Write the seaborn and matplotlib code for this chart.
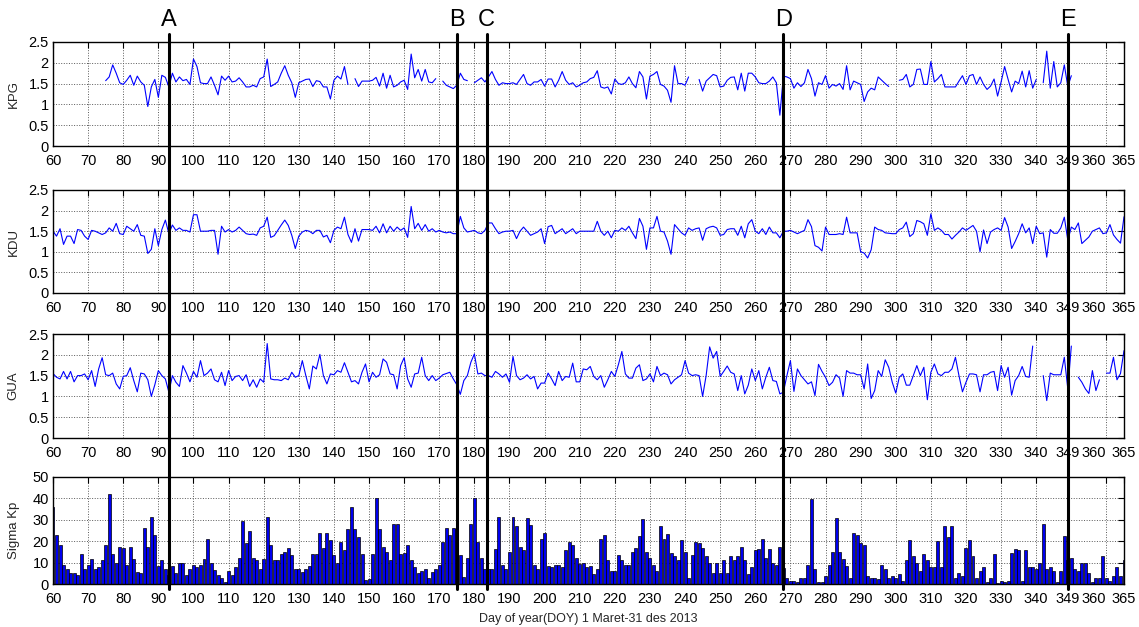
"""Stacked KPG / KDU / GUA daily series with Sigma Kp bars, DOY 60-365 (2013)."""

import matplotlib.pyplot as plt
import matplotlib.transforms as mtransforms
import numpy as np
import pandas as pd
import seaborn as sns
from matplotlib.lines import Line2D
from matplotlib.ticker import FormatStrFormatter

nan = np.nan

days = list(range(60, 366))

# one row = 10 days, starting at DOY 60
kpg = [
    0, 0, nan, nan, nan, nan, nan, nan, nan, nan,
    nan, nan, nan, nan, nan, 1.57, 1.66, 1.95, 1.75, 1.52,
    1.48, 1.58, 1.7, 1.46, 1.68, 1.54, 1.46, 0.95, 1.42, 1.6,
    1.17, 1.7, 1.65, 1.42, 1.75, 1.54, 1.66, 1.57, 1.6, 1.48,
    2.09, 1.91, 1.52, 1.5, 1.5, 1.66, 1.46, 1.23, 1.68, 1.58,
    1.68, 1.54, 1.56, 1.64, 1.54, 1.42, 1.42, 1.46, 1.42, 1.62,
    1.66, 2.09, 1.43, 1.48, 1.54, 1.75, 1.93, 1.7, 1.52, 1.17,
    1.52, 1.56, 1.6, 1.61, 1.43, 1.57, 1.55, 1.42, 1.42, 1.13,
    1.58, 1.68, 1.61, 1.91, 1.48, nan, 1.62, 1.43, 1.56, 1.56,
    1.56, 1.58, 1.65, 1.44, 1.75, 1.39, 1.7, 1.42, 1.46, 1.54,
    1.58, 1.36, 2.21, 1.64, 1.84, 1.56, 1.84, 1.54, 1.52, 1.62,
    nan, 1.56, 1.46, 1.42, 1.38, 1.46, 1.75, 1.6, 1.57, nan,
    1.52, 1.58, 1.64, 1.54, 1.66, 1.79, 1.6, 1.46, 1.52, 1.5,
    1.5, 1.52, 1.48, 1.6, 1.72, 1.5, 1.46, 1.54, 1.54, 1.6,
    1.44, 1.61, 1.61, 1.42, 1.58, 1.79, 1.58, 1.48, 1.52, 1.42,
    1.46, 1.52, 1.54, 1.62, 1.65, 1.81, 1.42, 1.39, 1.42, 1.25,
    1.61, 1.5, 1.48, 1.52, 1.66, 1.5, 1.4, 1.79, 1.66, 1.13,
    1.68, 1.72, 1.79, 1.48, 1.44, 1.34, 1.05, 1.93, 1.5, 1.5,
    1.46, 1.66, nan, nan, 1.6, 1.32, 1.56, 1.64, 1.72, 1.69,
    1.42, 1.44, 1.58, 1.65, 1.66, 1.35, 1.75, 1.32, 1.75, 1.75,
    1.66, 1.52, 1.5, 1.5, 1.56, 1.66, 1.52, 0.74, 1.68, 1.66,
    1.62, 1.39, 1.52, 1.43, 1.52, 1.84, 1.62, 1.2, 1.52, 1.48,
    1.69, 1.39, 1.48, 1.44, 1.5, 1.36, 1.93, 1.35, 1.56, 1.52,
    1.48, 1.07, 1.3, 1.39, 1.35, 1.66, 1.58, 1.5, 1.43, nan,
    nan, 1.58, 1.6, 1.72, 1.42, 1.48, 1.84, 1.85, 1.48, 1.48,
    2.03, 1.54, 1.62, 1.72, 1.42, 1.42, 1.42, 1.42, 1.56, 1.69,
    1.48, 1.69, 1.72, 1.48, 1.66, 1.48, 1.36, 1.44, 1.61, 1.2,
    1.54, 1.91, 1.6, 1.3, 1.56, 1.5, 1.8, 1.42, 1.81, 1.39,
    1.6, nan, 1.52, 2.28, 1.39, 2.03, 1.42, 1.52, 1.95, 1.43,
    1.69, nan, nan, nan, nan, nan, nan, nan, nan, nan,
    nan, nan, nan, nan, nan, nan,
]

kdu = [
    1.5, 1.38, 1.56, 1.18, 1.38, 1.38, 1.2, 1.54, 1.52, 1.38,
    1.3, 1.52, 1.5, 1.46, 1.42, 1.46, 1.58, 1.5, 1.69, 1.44,
    1.42, 1.62, 1.56, 1.5, 1.66, 1.4, 1.38, 0.96, 1.06, 1.56,
    1.15, 1.54, 1.77, 1.44, 1.65, 1.52, 1.58, 1.52, 1.52, 1.48,
    1.9, 1.9, 1.5, 1.5, 1.5, 1.52, 1.52, 0.94, 1.62, 1.48,
    1.54, 1.48, 1.52, 1.6, 1.52, 1.44, 1.42, 1.43, 1.4, 1.58,
    1.62, 1.84, 1.35, 1.39, 1.52, 1.65, 1.77, 1.64, 1.4, 1.08,
    1.38, 1.48, 1.52, 1.5, 1.44, 1.52, 1.52, 1.36, 1.4, 1.22,
    1.52, 1.6, 1.56, 1.84, 1.42, 1.23, 1.56, 1.26, 1.54, 1.54,
    1.54, 1.52, 1.62, 1.46, 1.68, 1.46, 1.62, 1.5, 1.6, 1.52,
    1.58, 1.35, 2.1, 1.56, 1.69, 1.52, 1.66, 1.5, 1.56, 1.48,
    1.52, 1.48, 1.46, 1.48, 1.44, 1.44, 1.86, 1.58, 1.48, 1.5,
    1.52, 1.46, 1.44, 1.52, 1.7, 1.7, 1.56, 1.44, 1.48, 1.5,
    1.5, 1.52, 1.32, 1.5, 1.6, 1.5, 1.4, 1.44, 1.48, 1.56,
    1.2, 1.61, 1.64, 1.44, 1.5, 1.56, 1.44, 1.5, 1.56, 1.44,
    1.5, 1.5, 1.5, 1.5, 1.5, 1.74, 1.5, 1.4, 1.5, 1.34,
    1.52, 1.5, 1.58, 1.52, 1.62, 1.46, 1.32, 1.81, 1.62, 1.06,
    1.58, 1.58, 1.86, 1.5, 1.48, 1.26, 0.94, 1.66, 1.56, 1.46,
    1.4, 1.58, 1.52, 1.56, 1.58, 1.28, 1.56, 1.6, 1.62, 1.58,
    1.4, 1.42, 1.54, 1.56, 1.56, 1.4, 1.62, 1.34, 1.68, 1.78,
    1.5, 1.44, 1.56, 1.42, 1.6, 1.46, 1.46, 1.34, 1.5, 1.5,
    1.52, 1.48, 1.44, 1.48, 1.52, 1.78, 1.61, 1.15, 1.11, 1.02,
    1.6, 1.42, 1.42, 1.42, 1.44, 1.42, 1.84, 1.46, 1.46, 1.46,
    1.0, 0.97, 0.85, 1.05, 1.6, 1.54, 1.52, 1.46, 1.45, 1.44,
    1.44, 1.54, 1.58, 1.72, 1.37, 1.44, 1.76, 1.73, 1.68, 1.4,
    1.92, 1.52, 1.58, 1.52, 1.42, 1.42, 1.31, 1.4, 1.48, 1.58,
    1.52, 1.58, 1.64, 1.5, 1.0, 1.53, 1.2, 1.48, 1.54, 1.58,
    1.52, 1.83, 1.6, 1.08, 1.25, 1.44, 1.68, 1.46, 1.58, 1.2,
    1.62, 1.44, 1.46, 0.87, 1.54, 1.45, 1.45, 1.58, 1.84, 1.28,
    1.6, 1.54, 1.7, 1.2, 1.28, 1.36, 1.5, 1.54, 1.58, 1.44,
    1.46, 1.66, 1.41, 1.3, 1.21, 1.85,
]

gua = [
    1.55, 1.46, 1.42, 1.6, 1.42, 1.6, 1.35, 1.5, 1.5, 1.54,
    1.4, 1.62, 1.24, 1.66, 1.93, 1.52, 1.5, 1.56, 1.3, 1.18,
    1.48, 1.5, 1.69, 1.38, 1.11, 1.56, 1.54, 1.4, 1.0, 1.28,
    1.62, 1.5, 1.42, 1.1, 1.5, 1.34, 1.24, 1.74, 1.56, 1.35,
    1.6, 1.46, 1.86, 1.5, 1.56, 1.66, 1.4, 1.35, 1.58, 1.26,
    1.62, 1.38, 1.48, 1.5, 1.38, 1.52, 1.24, 1.4, 1.22, 1.42,
    1.34, 2.27, 1.42, 1.4, 1.4, 1.38, 1.44, 1.4, 1.58, 1.46,
    1.5, 1.86, 1.5, 1.18, 1.73, 1.66, 2.01, 1.5, 1.3, 1.54,
    1.52, 1.62, 1.58, 1.81, 1.58, 1.35, 1.38, 1.3, 1.58, 1.78,
    1.35, 1.58, 1.46, 1.52, 1.9, 1.82, 1.54, 1.52, 1.18, 1.74,
    1.93, 1.42, 1.22, 1.54, 1.56, 1.94, 1.5, 1.38, 1.5, 1.38,
    1.44, 1.52, 1.55, 1.58, 1.42, 1.28, 1.05, 1.38, 1.5, 1.82,
    2.02, 1.54, 1.56, 1.5, 1.5, 1.46, 1.6, 1.54, 1.46, 1.54,
    1.34, 1.96, 1.5, 1.4, 1.44, 1.52, 1.42, 1.48, 1.18, 1.32,
    1.32, 1.56, 1.42, 1.26, 1.6, 1.38, 1.48, 1.46, 1.8, 1.35,
    1.35, 1.66, 1.64, 1.72, 1.48, 1.4, 1.5, 1.22, 1.4, 1.6,
    1.48, 1.76, 2.08, 1.54, 1.44, 1.44, 1.68, 1.76, 1.38, 1.42,
    1.54, 1.35, 1.72, 1.5, 1.56, 1.52, 1.3, 1.4, 1.46, 1.52,
    1.86, 1.56, 1.5, 1.52, 1.5, 1.0, 1.5, 2.19, 1.92, 2.08,
    1.48, 1.6, 1.73, 1.58, 1.54, 1.14, 1.5, 1.06, 1.27, 1.66,
    1.38, 1.62, 1.18, 1.46, 1.7, 1.38, 1.36, 1.06, 1.1, 1.5,
    1.86, 1.12, 1.66, 1.5, 1.4, 1.3, 1.35, 1.02, 1.77, 1.6,
    1.46, 1.26, 1.34, 1.52, 1.44, 1.0, 1.62, 1.56, 1.56, 1.52,
    1.52, 1.18, 1.78, 0.95, 1.14, 1.62, 1.48, 1.88, 1.7, 1.34,
    1.08, 1.46, 1.54, 1.27, 1.27, 1.5, 1.74, 1.5, 1.7, 0.92,
    1.58, 1.78, 1.54, 1.5, 1.58, 1.58, 1.66, 1.94, 1.5, 1.11,
    1.34, 1.54, 1.54, 1.52, 1.11, 1.52, 1.52, 1.58, 1.6, 1.14,
    1.74, 1.46, 1.7, 1.03, 1.38, 1.5, 1.72, 1.48, 1.46, 2.21,
    nan, nan, 1.5, 0.9, 1.56, 1.52, 1.52, 1.52, 1.94, 1.18,
    2.21, nan, 1.46, 1.34, 1.18, 1.07, 1.62, 1.14, 1.4, nan,
    1.56, 1.56, 1.94, 1.4, 1.55, 2.1,
]

sigma_kp = [
    36, 23, 18, 9, 7, 5, 5, 4, 14, 7,
    9, 11.5, 7, 8, 11, 18, 42, 14, 10, 17.5,
    17, 9, 17.5, 11.5, 5.5, 5, 26, 17.5, 31.5, 23,
    8.5, 11, 7, 4, 8.5, 5, 10, 10, 4, 7,
    9, 8, 9, 11.5, 21, 10, 6.5, 4, 3, 1,
    6, 4, 8, 12, 29.5, 19, 25, 12, 11, 7,
    11.5, 31.5, 18, 11, 11, 14, 15, 17, 13.5, 7,
    7, 5.5, 7, 8.5, 14, 14, 24, 17, 24, 20.5,
    13.5, 10, 19.5, 16, 25.5, 36, 25.5, 22, 14, 2,
    2.5, 14, 40, 25.5, 17.5, 15, 11, 28, 28, 14,
    14.5, 18, 11, 8, 5, 6, 7, 3, 5.5, 7,
    9, 19.5, 26, 23, 26, 25.5, 13.5, 3.5, 12, 28,
    40, 19.5, 12, 7, 7, 7, 16.5, 31.5, 9, 7,
    15, 31.5, 27, 17.5, 16, 31, 27.5, 9, 7, 21,
    24, 8.5, 8, 9, 9, 8, 16, 19.5, 18, 12,
    9.5, 10, 8, 8.5, 4.6, 7, 21, 23, 11, 6,
    6, 13.5, 11, 9, 9, 15, 17, 22.5, 30.5, 15,
    12, 9, 6, 27, 21, 23.5, 14.5, 13, 11, 20.5,
    15, 3, 13.5, 19.5, 19, 17, 13, 10, 5, 10,
    5, 11, 5, 13, 11, 13, 17.5, 11, 4.6, 8,
    16, 16.3, 21, 12, 16.3, 10, 9, 17.5, 7.7, 3,
    1.6, 1.6, 1, 3, 3, 9, 39.5, 7, 1, 1,
    3.7, 9, 15, 31, 15, 11.5, 8.5, 3, 24, 23,
    19, 18, 3.7, 3, 3, 2.4, 9, 7, 3, 3.7,
    3, 4.5, 1.6, 11, 20.5, 13, 10, 6, 14, 11,
    8, 8, 20, 8, 27, 22, 27, 3, 5, 3.7,
    17, 20.5, 13, 3, 6, 8, 1, 3, 14, 0.3,
    1.6, 1, 1.6, 14.5, 16.3, 16, 1.3, 16, 8, 8,
    7, 10, 28, 7, 8, 6, 1, 6, 22.5, 11,
    12, 7, 6, 10, 10, 5, 1, 3, 3, 13,
    3, 1.6, 3.7, 8, 3.7, 11,
]

event_labels = ["A", "B", "C", "D", "E"]
event_days = [93, 175, 183.5, 268, 349]

x_ticks = list(range(60, 341, 10)) + [349, 360, 365]
line_yticks = [0, 0.5, 1, 1.5, 2, 2.5]
kp_yticks = [0, 10, 20, 30, 40, 50]
panel_names = ["KPG", "KDU", "GUA"]

sns.set_style("white")
plt.rcParams["font.family"] = ["Liberation Sans Narrow", "Liberation Sans", "DejaVu Sans"]

W, H = 1139, 627
fig = plt.figure(figsize=(W / 100, H / 100), dpi=100)

# axes boxes in pixels: (top, bottom)
boxes = [(42, 146), (190, 293), (334, 438), (477, 584)]
left_px, right_px = 53, 1124
axes = []
for top, bot in boxes:
    ax = fig.add_axes([left_px / W, 1 - bot / H, (right_px - left_px) / W, (bot - top) / H])
    axes.append(ax)


def style_axis(ax):
    ax.set_xlim(60, 365)
    ax.set_xticks(x_ticks)
    ax.set_xticklabels([str(t) for t in x_ticks])
    # the last two ticks sit close together: push "360" left so they just touch
    ax.get_xticklabels()[-2].set_horizontalalignment("right")
    ax.grid(True, linestyle=":", color="0.35", linewidth=0.7)
    ax.set_axisbelow(True)
    ax.tick_params(direction="in", length=4, width=0.8, top=True, right=True,
                   labelsize=10.5, colors="black")
    ax.tick_params(axis="x", pad=6)
    ax.tick_params(axis="y", pad=3)
    for sp in ax.spines.values():
        sp.set_color("black")
        sp.set_linewidth(1.0)
    ax.set_xlabel("")
    ax.yaxis.set_label_coords(-0.031, 0.5)


for ax, name, vals in zip(axes[:3], panel_names, [kpg, kdu, gua]):
    df = pd.DataFrame({"day": days, "value": vals})
    df["seg"] = df["value"].isna().cumsum()
    df = df.dropna()
    sns.lineplot(data=df, x="day", y="value", units="seg", estimator=None,
                 color="#0000ff", linewidth=0.8, ax=ax, legend=False)
    ax.set_ylim(0, 2.5)
    ax.set_yticks(line_yticks)
    ax.yaxis.set_major_formatter(FormatStrFormatter("%g"))
    ax.set_ylabel(name, fontsize=9.5)
    style_axis(ax)

ax4 = axes[3]
kp_df = pd.DataFrame({"day": days, "kp": sigma_kp})
sns.barplot(data=kp_df, x="day", y="kp", native_scale=True, color="#0000ee",
            saturation=1, edgecolor="black", linewidth=0.5, width=0.85,
            errorbar=None, ax=ax4)
ax4.set_ylim(0, 50)
ax4.set_yticks(kp_yticks)
ax4.set_ylabel("Sigma Kp", fontsize=9.5)
style_axis(ax4)

# event markers span all panels: x in data units, y in figure units
trans = mtransforms.blended_transform_factory(ax4.transData, fig.transFigure)
for lab, d in zip(event_labels, event_days):
    fig.add_artist(Line2D([d, d], [1 - 34 / H, 1 - 589 / H], transform=trans,
                          color="black", linewidth=2.2, zorder=10))
    fig.text(d, 1 - 20 / H, lab, transform=trans, ha="center", va="center",
             fontsize=17, color="black")

fig.text((left_px + right_px) / 2 / W, 1 - 619 / H,
         "Day of year(DOY) 1 Maret-31 des 2013", ha="center", va="center",
         fontsize=9)

fig.savefig("out.png", dpi=100)
